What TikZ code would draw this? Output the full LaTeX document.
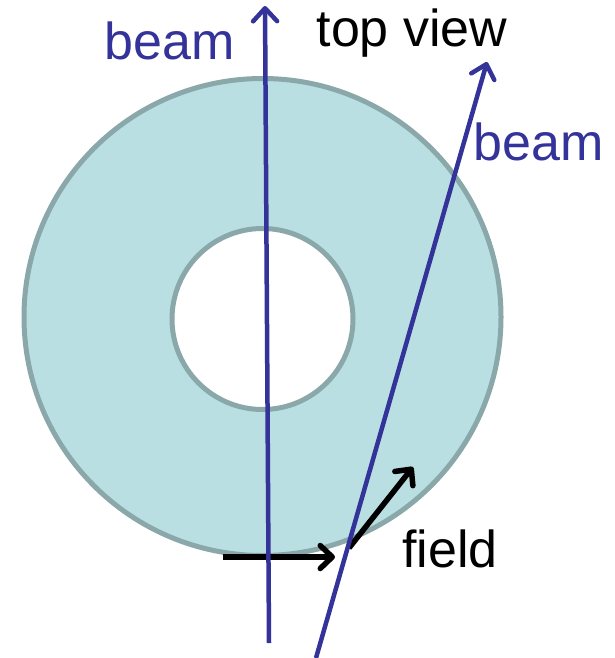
\documentclass[tikz,border=0pt]{standalone}
\usepackage{fontspec}
\setmainfont{Liberation Sans}
\usetikzlibrary{arrows.meta}
\definecolor{ringfill}{HTML}{BADFE3}
\definecolor{ringline}{HTML}{8AA8A9}
\definecolor{beamblue}{HTML}{333399}
\tikzset{
  ring/.style={circle, draw=ringline, line width=5pt, inner sep=0pt},
  beamline/.style={draw=beamblue, line width=4.5pt, -{Straight Barb[length=13pt,width=24pt,round]}},
  fieldline/.style={draw=black, line width=5.5pt, -{Straight Barb[length=12pt,width=23pt,round]}},
  lbl/.style={inner sep=0pt, anchor=base, font=\fontsize{52}{60}\selectfont},
}
\begin{document}
\begin{tikzpicture}[x=1pt,y=-1pt]
\useasboundingbox (0,0) rectangle (615,658);
\node[ring, fill=ringfill, minimum size=477pt] (outer) at (262.5,317) {};
\node[ring, fill=white, minimum size=181pt] (inner) at (262.5,319) {};
% field arrows
\coordinate (h0) at (223,557);
\coordinate (h1) at (335,557);
\coordinate (d0) at (349,548);
\coordinate (d1) at (413,467);
\draw[fieldline] (h0) -- (h1);
\draw[fieldline] (d0) -- (d1);
% beams
\coordinate (b1s) at (269,643);
\coordinate (b1e) at (265,6);
\coordinate (b2s) at (316,658);
\coordinate (b2e) at (487,62);
\draw[beamline] (b1s) -- (b1e);
\draw[beamline] (b2s) -- (b2e);
% labels
\node[lbl, text=beamblue] (beamL) at (170,60) {beam};
\node[lbl, text=beamblue] (beamR) at (539,160) {beam};
\node[lbl] (top) at (412,47) {top view};
\node[lbl] (field) at (450,567) {field};
\end{tikzpicture}
\end{document}
